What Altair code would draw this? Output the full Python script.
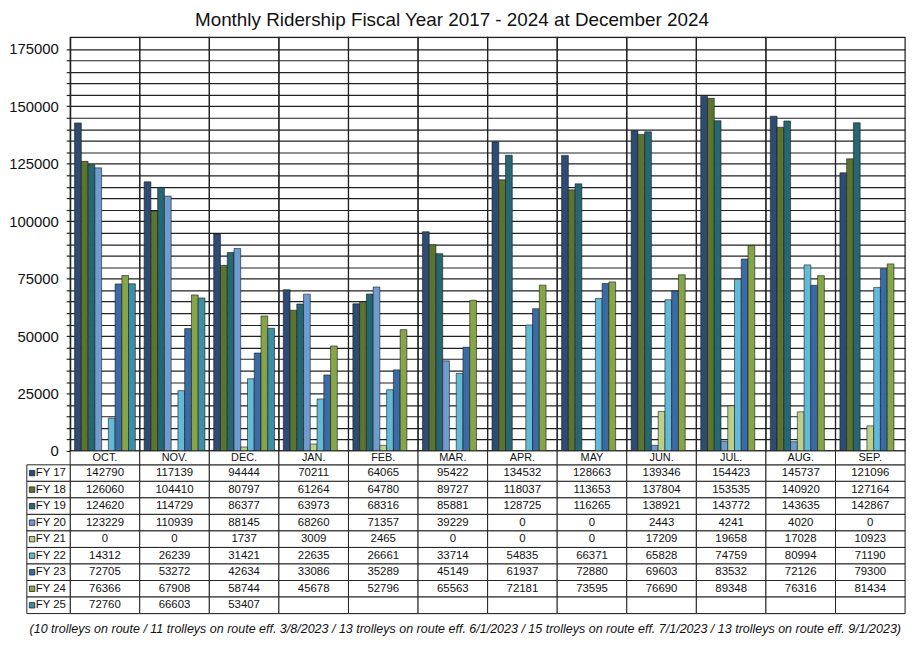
import altair as alt
import pandas as pd

months = ["OCT.", "NOV.", "DEC.", "JAN.", "FEB.", "MAR.", "APR.", "MAY", "JUN.", "JUL.", "AUG.", "SEP."]
fys = ["FY 17", "FY 18", "FY 19", "FY 20", "FY 21", "FY 22", "FY 23", "FY 24", "FY 25"]

fy17 = [142790, 117139, 94444, 70211, 64065, 95422, 134532, 128663, 139346, 154423, 145737, 121096]
fy18 = [126060, 104410, 80797, 61264, 64780, 89727, 118037, 113653, 137804, 153535, 140920, 127164]
fy19 = [124620, 114729, 86377, 63973, 68316, 85881, 128725, 116265, 138921, 143772, 143635, 142867]
fy20 = [123229, 110939, 88145, 68260, 71357, 39229, 0, 0, 2443, 4241, 4020, 0]
fy21 = [0, 0, 1737, 3009, 2465, 0, 0, 0, 17209, 19658, 17028, 10923]
fy22 = [14312, 26239, 31421, 22635, 26661, 33714, 54835, 66371, 65828, 74759, 80994, 71190]
fy23 = [72705, 53272, 42634, 33086, 35289, 45149, 61937, 72880, 69603, 83532, 72126, 79300]
fy24 = [76366, 67908, 58744, 45678, 52796, 65563, 72181, 73595, 76690, 89348, 76316, 81434]
fy25 = [72760, 66603, 53407, None, None, None, None, None, None, None, None, None]

colors = ["#2D4B73", "#5B7531", "#276673", "#6E9BD0", "#B9D18A", "#62BAD6", "#3B6BA5", "#86A548", "#3E8EA6"]

title_text = "Monthly Ridership Fiscal Year 2017 - 2024 at December 2024"
footnote = ("(10 trolleys on route / 11 trolleys on route eff. 3/8/2023 / 13 trolleys on route eff. 6/1/2023 / "
            "15 trolleys on route eff. 7/1/2023 / 13 trolleys on route eff. 9/1/2023)")

series = [fy17, fy18, fy19, fy20, fy21, fy22, fy23, fy24, fy25]
rows = []
for fy, vals in zip(fys, series):
    for m, v in zip(months, vals):
        rows.append({"month": m, "fy": fy, "value": v, "label": "" if v is None else str(v)})
df = pd.DataFrame(rows)
bars_df = df[df["value"].notna()]
hdr_df = pd.DataFrame({"month": months, "row": ["hdr"] * len(months)})
lbl_df = pd.DataFrame({"fy": fys, "col": ["lbl"] * len(fys)})

FONT = "Liberation Sans"
LINE = "#222222"
PLOT_H = 417
HDR_END = 431
TABLE_END = 581
LBL_W = 43.7
Y_MAX = 180000

color_scale = alt.Scale(domain=fys, range=colors)
y_bar_scale = alt.Scale(domain=[0, Y_MAX], range=[PLOT_H, 0], nice=False, zero=True)
xm_noaxis = alt.X("month:N", sort=months, scale=alt.Scale(domain=months, paddingInner=0, paddingOuter=0), axis=None)
y_rows = alt.Y("fy:N", sort=fys, scale=alt.Scale(domain=fys, range=[HDR_END, TABLE_END], paddingInner=0, paddingOuter=0), axis=None)
y_hdr = alt.Y("row:N", scale=alt.Scale(domain=["hdr"], range=[PLOT_H, HDR_END], paddingInner=0, paddingOuter=0), axis=None)

# label column: a linear x scale mapping [0, 1] onto the strip left of the plot
x_lbl_scale = alt.Scale(domain=[0, 1], range=[-LBL_W, 0], nice=False, zero=False)
x_lbl = alt.X(datum=0, type="quantitative", scale=x_lbl_scale, axis=None)

col_frames = alt.Chart(hdr_df).mark_rect(fillOpacity=0, stroke=LINE, strokeWidth=1.2).encode(
    x=xm_noaxis,
    y=alt.Y(datum=Y_MAX, type="quantitative", scale=y_bar_scale, axis=None),
    y2=alt.Y2(datum=0),
)

bars = alt.Chart(bars_df).mark_bar(stroke="#1a1a1a", strokeWidth=0.6).encode(
    x=alt.X("month:N", sort=months,
            scale=alt.Scale(domain=months, paddingInner=0, paddingOuter=0),
            axis=alt.Axis(grid=False, labels=False, ticks=False, domain=False,
                          title=footnote, titleFont=FONT,
                          titleFontStyle="italic", titleFontWeight="normal", titleFontSize=12.6,
                          titleColor="#111", titlePadding=9, titleX=398)),
    xOffset=alt.XOffset("fy:N", sort=fys, scale=alt.Scale(domain=fys, paddingInner=0, paddingOuter=0.65)),
    y=alt.Y("value:Q", scale=y_bar_scale,
            axis=alt.Axis(values=list(range(0, 175001, 5000)),
                          labelExpr="datum.value % 25000 === 0 ? datum.label : ''",
                          format="d", grid=True, gridColor=LINE, gridWidth=1.2, gridOpacity=1,
                          tickColor=LINE, tickSize=4, tickWidth=1.2, domainColor=LINE, domainWidth=1.2,
                          labelFont=FONT, labelFontSize=15, labelColor="#111", labelPadding=8,
                          title=None)),
    color=alt.Color("fy:N", scale=color_scale, legend=None),
)

cells = alt.Chart(df).mark_rect(fill="white", stroke=LINE, strokeWidth=1).encode(x=xm_noaxis, y=y_rows)
hdr_cells = alt.Chart(hdr_df).mark_rect(fill="white", stroke=LINE, strokeWidth=1).encode(x=xm_noaxis, y=y_hdr)
lbl_cells = alt.Chart(lbl_df).mark_rect(fill="white", stroke=LINE, strokeWidth=1).encode(
    x=x_lbl, x2=alt.X2(datum=1), y=y_rows)

values_txt = alt.Chart(df).mark_text(font=FONT, fontSize=11.5, color="#111").encode(
    x=xm_noaxis, y=y_rows, text="label:N")
hdr_txt = alt.Chart(hdr_df).mark_text(font=FONT, fontSize=11, color="#111").encode(
    x=xm_noaxis, y=y_hdr, text="month:N")
lbl_txt = alt.Chart(lbl_df).mark_text(font=FONT, fontSize=11.5, color="#111", align="left", dx=9).encode(
    x=x_lbl, y=y_rows, text="fy:N")
swatch = alt.Chart(lbl_df).mark_square(size=30, xOffset=5.3, stroke="#222", strokeWidth=0.8,
                                       opacity=1).encode(
    x=x_lbl, y=y_rows,
    color=alt.Color("fy:N", scale=color_scale, legend=None))

chart = alt.layer(
    col_frames, bars, cells, hdr_cells, lbl_cells, values_txt, hdr_txt, lbl_txt, swatch
).resolve_scale(
    x="independent", y="independent"
).properties(
    width=842, height=TABLE_END,
    title=alt.TitleParams(title_text, font=FONT, fontSize=19, fontWeight="normal", color="#111",
                          anchor="middle", dx=-36, offset=7),
    autosize="none",
    padding={"left": 62.7, "top": 27, "right": 9, "bottom": 29},
).configure_view(stroke=LINE, strokeWidth=1.2).configure(background="white")

chart.save("out.html", embed_options={"renderer": "svg", "actions": False})
